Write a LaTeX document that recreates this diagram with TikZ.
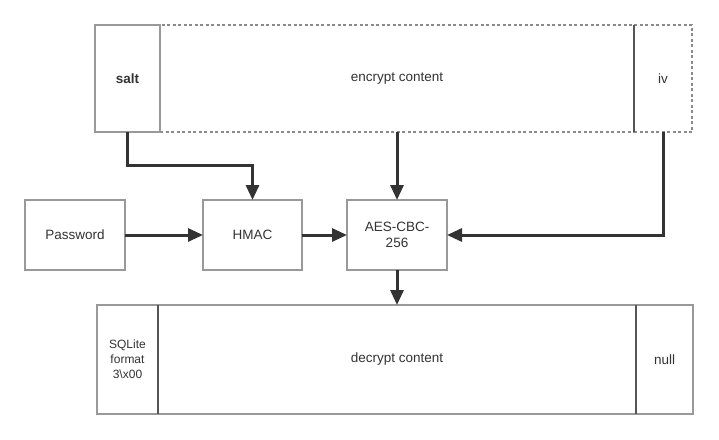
\documentclass[tikz,border=0pt]{standalone}
\usepackage{fontspec}
\setmainfont{Liberation Sans}
\usetikzlibrary{arrows.meta}
\definecolor{edgec}{HTML}{999999}
\definecolor{divc}{HTML}{555555}
\definecolor{dashc}{HTML}{8A8A8A}
\definecolor{txtc}{HTML}{333333}
\definecolor{arrc}{HTML}{333333}
\begin{document}
\begin{tikzpicture}[x=1pt,y=-1pt,
  box/.style={draw=edgec, line width=1.5pt, rectangle, inner sep=0pt, outer sep=0pt,
    text=txtc, font=\fontsize{13.5}{16}\selectfont, align=center},
  dashbox/.style={box, draw=dashc, dash pattern=on 3pt off 2.5pt},
  divider/.style={draw=divc, line width=1.5pt},
  conn/.style={draw=arrc, line width=3pt, -{Triangle[length=15pt,width=13pt]}}]
\useasboundingbox (0,0) rectangle (719,439);
\fill[white] (0,0) rectangle (719,439);
% top bar
\node[dashbox, minimum width=474pt, minimum height=107pt] (enc) at (397,78.5) {encrypt content};
\node[dashbox, minimum width=58pt, minimum height=107pt] (iv) at (663,78.5) {iv};
\node[box, minimum width=65pt, minimum height=107pt, font=\fontsize{13.5}{16}\selectfont\bfseries] (salt) at (127.5,78.5) {salt};
\draw[divider] (iv.north west) -- (iv.south west);
% middle
\node[box, minimum width=100pt, minimum height=70pt] (pw) at (75,235) {Password};
\node[box, minimum width=99pt, minimum height=70pt] (hmac) at (252.5,235) {HMAC};
\node[box, minimum width=100pt, minimum height=70pt] (aes) at (397,235) {AES-CBC-\\256};
% bottom bar
\node[box, minimum width=478pt, minimum height=109pt] (dec) at (397,359.5) {decrypt content};
\node[box, minimum width=61pt, minimum height=109pt, font=\fontsize{12}{15}\selectfont] (sql) at (127.5,359.5) {SQLite\\format\\3\textbackslash x00};
\node[box, minimum width=57pt, minimum height=109pt] (null) at (664.5,359.5) {null};
\draw[divider] (dec.north west) -- (dec.south west);
\draw[divider] (dec.north east) -- (dec.south east);
% connectors
\draw[conn] (salt.south) -- (salt.south |- 0,165) -| (hmac.north);
\draw[conn] (enc.south) -- (aes.north);
\draw[conn] (iv.south) |- (aes.east);
\draw[conn] (pw.east) -- (hmac.west);
\draw[conn] (hmac.east) -- (aes.west);
\draw[conn] (aes.south) -- (dec.north);
\end{tikzpicture}
\end{document}
